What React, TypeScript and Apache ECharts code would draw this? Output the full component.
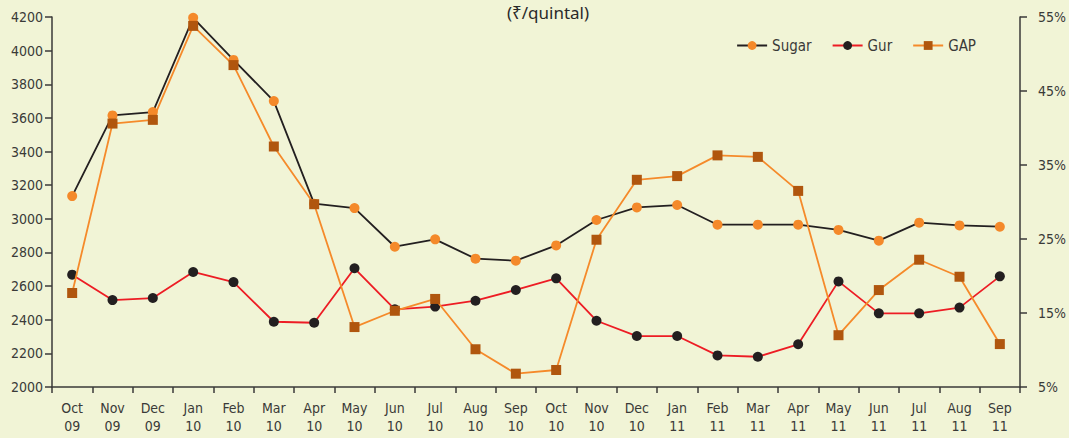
import React, { useEffect, useRef } from "react";
import * as echarts from "echarts";

const months = [
  "Oct\n09", "Nov\n09", "Dec\n09", "Jan\n10", "Feb\n10", "Mar\n10", "Apr\n10", "May\n10",
  "Jun\n10", "Jul\n10", "Aug\n10", "Sep\n10", "Oct\n10", "Nov\n10", "Dec\n10", "Jan\n11",
  "Feb\n11", "Mar\n11", "Apr\n11", "May\n11", "Jun\n11", "Jul\n11", "Aug\n11", "Sep\n11",
];
const sugar = [
  3135, 3615, 3635, 4195, 3945, 3700, 3090, 3064, 2834, 2878, 2763, 2751,
  2842, 2993, 3068, 3082, 2965, 2965, 2965, 2934, 2870, 2977, 2961, 2953,
];
const gur = [
  2668, 2517, 2529, 2684, 2624, 2388, 2382, 2706, 2462, 2478, 2513, 2577,
  2646, 2394, 2303, 2303, 2188, 2180, 2254, 2628, 2438, 2438, 2472, 2658,
];
const gap = [
  17.7, 40.6, 41.1, 53.8, 48.5, 37.5, 29.7, 13.1, 15.3, 16.9, 10.1, 6.8,
  7.3, 24.9, 33.0, 33.5, 36.3, 36.1, 31.5, 12.0, 18.1, 22.2, 19.9, 10.8,
];
const titleText = "(₹/quintal)";

const FONT = "'DejaVu Sans Condensed', 'Liberation Sans Narrow', sans-serif";
const TEXT = "#3a3a38";
const AXIS = "#3a3a38";

export default function App() {
  const ref = useRef<HTMLDivElement>(null);
  useEffect(() => {
    if (!ref.current) return;
    const chart = echarts.init(ref.current, undefined, { renderer: "svg" });
    chart.setOption({
      animation: false,
      backgroundColor: "#f1f4d6",
      title: {
        text: titleText,
        left: 543,
        textAlign: "center",
        top: -1,
        textStyle: { fontFamily: "'Noto Sans', sans-serif", fontSize: 17, fontWeight: "normal", color: "#2a2a2a" },
      },
      legend: {
        right: 88,
        top: 33,
        itemWidth: 30,
        itemHeight: 11,
        itemGap: 20,
        textStyle: { fontFamily: FONT, fontSize: 15, color: TEXT },
        data: ["Sugar", "Gur", "GAP"],
      },
      grid: { left: 52, right: 49, top: 17, bottom: 51 },
      xAxis: {
        type: "category",
        data: months,
        boundaryGap: true,
        axisLine: { lineStyle: { color: AXIS, width: 1.5 } },
        axisTick: { show: true, length: 6, lineStyle: { color: AXIS, width: 1.5 } },
        axisLabel: { fontFamily: FONT, fontSize: 14, color: TEXT, lineHeight: 18, margin: 12, interval: 0 },
      },
      yAxis: [
        {
          type: "value",
          min: 2000,
          max: 4200,
          interval: 200,
          splitLine: { show: false },
          axisLine: { show: true, lineStyle: { color: AXIS, width: 1.5 } },
          axisTick: { show: true, length: 7, lineStyle: { color: AXIS, width: 1.5 } },
          axisLabel: { fontFamily: FONT, fontSize: 14, color: TEXT, margin: 9, formatter: (v: number) => String(v) },
        },
        {
          type: "value",
          min: 5,
          max: 55,
          interval: 10,
          position: "right",
          splitLine: { show: false },
          axisLine: { show: true, lineStyle: { color: AXIS, width: 1.5 } },
          axisTick: { show: true, length: 7, lineStyle: { color: AXIS, width: 1.5 } },
          axisLabel: { fontFamily: FONT, fontSize: 14, color: TEXT, margin: 18, formatter: "{value}%" },
        },
      ],
      series: [
        {
          name: "Sugar",
          type: "line",
          data: sugar,
          symbol: "circle",
          symbolSize: 10,
          lineStyle: { color: "#231f20", width: 1.8 },
          itemStyle: { color: "#f4892a", borderWidth: 0 },
          z: 3,
        },
        {
          name: "Gur",
          type: "line",
          data: gur,
          symbol: "circle",
          symbolSize: 10,
          lineStyle: { color: "#ed1c24", width: 1.8 },
          itemStyle: { color: "#231f20", borderWidth: 0 },
          z: 4,
        },
        {
          name: "GAP",
          type: "line",
          yAxisIndex: 1,
          data: gap,
          symbol: "rect",
          symbolSize: 10,
          lineStyle: { color: "#f58a2a", width: 1.8 },
          itemStyle: { color: "#b0560e", borderWidth: 0 },
          z: 5,
        },
      ],
    });
    return () => chart.dispose();
  }, []);
  return <div ref={ref} style={{ width: 1069, height: 438, position: "absolute", left: 0, top: 0 }} />;
}
